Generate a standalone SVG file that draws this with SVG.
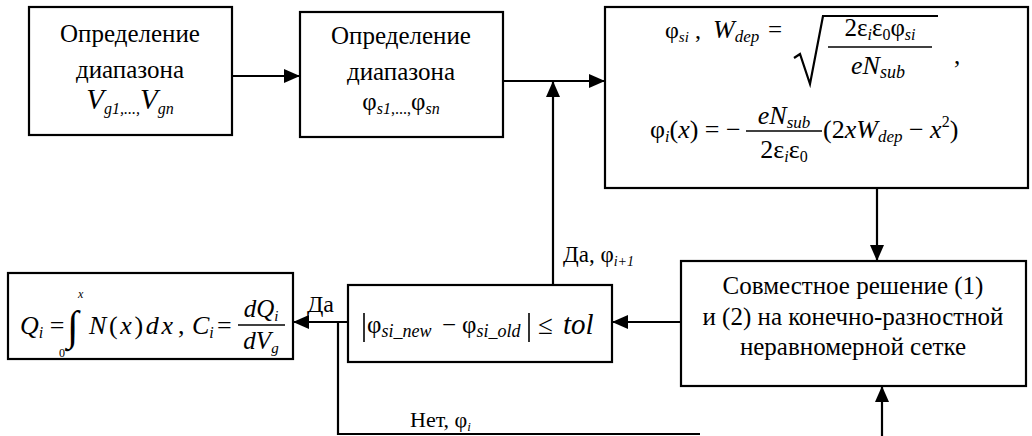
<svg xmlns="http://www.w3.org/2000/svg" width="1032" height="436" viewBox="0 0 1032 436">
<style>
  .box { fill: #fff; stroke: #000; stroke-width: 2.2; }
  .lbl { font-size: 25px; }
  .it { font-style: italic; }
  .con { fill: none; stroke: #000; stroke-width: 2.2; }
</style>
<defs>
  <marker id="ah" markerUnits="userSpaceOnUse" markerWidth="16" markerHeight="14" refX="15" refY="7" orient="auto">
    <path d="M0,0 L16,7 L0,14 Z" fill="#000"/>
  </marker>
</defs>
<rect width="1032" height="436" fill="#fff"/>
<g font-family="Liberation Serif, serif">
<g id="connectors">
  <line class="con" x1="232" y1="76" x2="299" y2="76" marker-end="url(#ah)"/>
  <line class="con" x1="503" y1="81" x2="604" y2="81" marker-end="url(#ah)"/>
  <line class="con" x1="553" y1="285" x2="553" y2="82" marker-end="url(#ah)"/>
  <line class="con" x1="877" y1="188" x2="877" y2="260" marker-end="url(#ah)"/>
  <line class="con" x1="681" y1="322" x2="613" y2="322" marker-end="url(#ah)"/>
  <line class="con" x1="348" y1="322" x2="294" y2="322" marker-end="url(#ah)"/>
  <polyline class="con" points="338,322 338,434 700,434"/>
  <line class="con" x1="882" y1="436" x2="882" y2="387" marker-end="url(#ah)"/>
  <text x="307" y="312" font-size="24">Да</text>
  <text x="563" y="262" font-size="23">Да, φ<tspan class="it" font-size="14" dy="4">i+1</tspan></text>
  <text x="410" y="427" font-size="22">Нет, φ<tspan class="it" font-size="13" dy="4">i</tspan></text>
</g>

<g id="node1">
  <rect class="box" x="29" y="7" width="203" height="128"/>
  <text class="lbl" x="130" y="42" text-anchor="middle">Определение</text>
  <text class="lbl" x="130" y="78" text-anchor="middle">диапазона</text>
  <text class="it" x="130" y="109" text-anchor="middle"><tspan font-size="29">V</tspan><tspan font-size="16" dy="5">g1</tspan><tspan font-size="16">,...,</tspan><tspan font-size="29" dy="-5">V</tspan><tspan font-size="16" dy="5">gn</tspan></text>
</g>

<g id="node2">
  <rect class="box" x="300" y="12" width="203" height="125"/>
  <text class="lbl" x="401" y="44" text-anchor="middle">Определение</text>
  <text class="lbl" x="401" y="80" text-anchor="middle">диапазона</text>
  <text x="401" y="110" text-anchor="middle"><tspan font-size="25">φ</tspan><tspan class="it" font-size="16" dy="4">s1</tspan><tspan font-size="16">,...,</tspan><tspan font-size="25" dy="-4">φ</tspan><tspan class="it" font-size="16" dy="4">sn</tspan></text>
</g>

<g id="node3">
  <rect class="box" x="605" y="7" width="423" height="181"/>
  <text x="665" y="38" font-size="24">φ<tspan class="it" font-size="15" dy="4">si</tspan><tspan dy="-4"> ,</tspan></text>
  <text x="713" y="38" font-size="26"><tspan class="it">W</tspan><tspan class="it" font-size="17" dy="4">dep</tspan></text>
  <text x="768" y="38" font-size="25">=</text>
  <path class="con" stroke-width="1.6" d="M794,58 L800,54 L810,84 L823,16 L938,16"/>
  <text x="880" y="36" font-size="25" text-anchor="middle">2ε<tspan class="it" font-size="16" dy="4">i</tspan><tspan dy="-4">ε</tspan><tspan font-size="16" dy="4">0</tspan><tspan dy="-4">φ</tspan><tspan class="it" font-size="16" dy="4">si</tspan></text>
  <line x1="828" y1="47" x2="932" y2="47" stroke="#000" stroke-width="1.4"/>
  <text class="it" x="878" y="74" font-size="26" text-anchor="middle">eN<tspan font-size="18" dy="4">sub</tspan></text>
  <text x="954" y="64" font-size="25">,</text>

  <text x="650" y="138" font-size="26">φ<tspan class="it" font-size="16" dy="4">i</tspan><tspan dy="-4">(</tspan><tspan class="it">x</tspan>) = −</text>
  <text class="it" x="784" y="124" font-size="26" text-anchor="middle">eN<tspan font-size="17" dy="4">sub</tspan></text>
  <line x1="746" y1="131" x2="822" y2="131" stroke="#000" stroke-width="1.4"/>
  <text x="784" y="158" font-size="26" text-anchor="middle">2ε<tspan class="it" font-size="16" dy="4">i</tspan><tspan dy="-4">ε</tspan><tspan font-size="16" dy="4">0</tspan></text>
  <text x="823" y="138" font-size="26">(2<tspan class="it">xW</tspan><tspan class="it" font-size="17" dy="4">dep</tspan><tspan dy="-4"> − </tspan><tspan class="it">x</tspan><tspan font-size="16" dy="-11">2</tspan><tspan dy="11">)</tspan></text>
</g>

<g id="node4">
  <rect class="box" x="681" y="261" width="345" height="125"/>
  <text x="853" y="294" font-size="25" text-anchor="middle">Совместное решение (1)</text>
  <text x="853" y="325" font-size="25" text-anchor="middle">и (2) на конечно-разностной</text>
  <text x="853" y="355" font-size="25" text-anchor="middle">неравномерной сетке</text>
</g>

<g id="node5">
  <rect class="box" x="348" y="285" width="264" height="77"/>
  <line x1="364" y1="313" x2="364" y2="342" stroke="#000" stroke-width="1.6"/>
  <line x1="529" y1="313" x2="529" y2="342" stroke="#000" stroke-width="1.6"/>
  <text x="367" y="333" font-size="25">φ<tspan class="it" font-size="18" dy="4">si_new</tspan></text>
  <text x="442" y="333" font-size="25">−</text>
  <text x="462" y="333" font-size="25">φ<tspan class="it" font-size="18" dy="4">si_old</tspan></text>
  <text x="538" y="334" font-size="27">≤</text>
  <text class="it" x="563" y="334" font-size="29">tol</text>
</g>

<g id="node6">
  <rect class="box" x="8" y="273" width="285" height="86"/>
  <text x="20" y="334" font-size="26"><tspan class="it">Q</tspan><tspan class="it" font-size="16" dy="4">i</tspan><tspan dy="-4"> =</tspan></text>
  <text x="67" y="340" font-size="42">∫</text>
  <text class="it" x="78" y="298" font-size="12">x</text>
  <text x="59" y="357" font-size="12">0</text>
  <text x="89" y="334" font-size="26" textLength="84" lengthAdjust="spacing"><tspan class="it">N</tspan>(<tspan class="it">x</tspan>)<tspan class="it">dx</tspan></text>
  <text x="178" y="334" font-size="26">,</text>
  <text x="192" y="334" font-size="26"><tspan class="it">C</tspan><tspan class="it" font-size="16" dy="4">i</tspan></text>
  <text x="217" y="334" font-size="26">=</text>
  <text class="it" x="261" y="317" font-size="25" text-anchor="middle">dQ<tspan font-size="15" dy="4">i</tspan></text>
  <line x1="238" y1="325" x2="285" y2="325" stroke="#000" stroke-width="1.4"/>
  <text class="it" x="261" y="349" font-size="25" text-anchor="middle">dV<tspan font-size="15" dy="4">g</tspan></text>
</g>
</g>
</svg>
